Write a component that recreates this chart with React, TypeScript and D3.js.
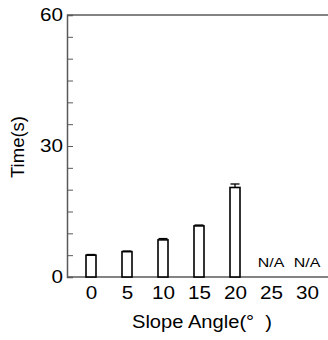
import { useEffect, useRef } from "react"
import * as d3 from "d3"

// slope angle categories (degrees)
const angles = ["0", "5", "10", "15", "20", "25", "30"]
// mean time in seconds, null = N/A
const times: (number | null)[] = [5.0, 5.8, 8.5, 11.7, 20.5, null, null]
// error bar half-heights
const errors: (number | null)[] = [0.15, 0.15, 0.3, 0.2, 0.8, null, null]
const majorTicks = [0, 30, 60]

const FONT = "'Liberation Sans', Arial, sans-serif"
// the original figure is a bit stretched horizontally
const STRETCH = 1.18

export default function App() {
  const svgRef = useRef<SVGSVGElement>(null)

  useEffect(() => {
    if (!svgRef.current) return
    const svg = d3.select(svgRef.current)
    svg.selectAll("*").remove()

    const width = 328
    const left = 67
    const top = 15
    const bottom = 277

    const x = d3.scalePoint<string>().domain(angles).range([91, 307])
    const y = d3.scaleLinear().domain([0, 60]).range([bottom, top])
    const barW = 10

    const rows = angles.map((a, i) => ({ angle: a, value: times[i], err: errors[i] }))

    // frame lines
    const frame = svg.append("g").attr("stroke", "#5a5a5a").attr("stroke-width", 1.5)
    frame.append("line").attr("x1", left).attr("x2", width).attr("y1", top).attr("y2", top)
    frame.append("line").attr("x1", left).attr("x2", width).attr("y1", bottom).attr("y2", bottom)

    // minor ticks every 5
    const minor = svg
      .append("g")
      .attr("transform", `translate(${left},0)`)
      .call(d3.axisLeft(y).tickValues(d3.range(0, 61, 5)).tickSize(-6).tickFormat(() => ""))
    minor.select(".domain").attr("stroke", "#5a5a5a").attr("stroke-width", 1.5)
    minor.selectAll(".tick line").attr("stroke", "#5a5a5a").attr("stroke-width", 1)

    // major labels
    const major = svg
      .append("g")
      .attr("transform", `translate(${left},0)`)
      .call(d3.axisLeft(y).tickValues(majorTicks).tickSize(0).tickPadding(3.5))
    major.select(".domain").remove()
    major
      .selectAll(".tick text")
      .attr("fill", "#000")
      .attr("transform", `scale(${STRETCH},1)`)
      .style("font-family", FONT)
      .style("font-size", "17.5px")

    // x labels
    const xa = svg
      .append("g")
      .attr("transform", `translate(0,${bottom})`)
      .call(d3.axisBottom(x).tickSize(0).tickPadding(10))
    xa.select(".domain").remove()
    xa.selectAll(".tick text")
      .attr("fill", "#000")
      .attr("transform", `scale(${STRETCH},1)`)
      .style("font-family", FONT)
      .style("font-size", "17.5px")

    // bars
    const valid = rows.filter((d) => d.value !== null)
    svg
      .append("g")
      .selectAll("rect")
      .data(valid)
      .enter()
      .append("rect")
      .attr("x", (d) => x(d.angle)! - barW / 2)
      .attr("y", (d) => y(d.value as number))
      .attr("width", barW)
      .attr("height", (d) => bottom - y(d.value as number))
      .attr("fill", "white")
      .attr("stroke", "black")
      .attr("stroke-width", 1.6)

    // error bars
    const eb = svg.append("g").attr("stroke", "black").attr("stroke-width", 1.3)
    valid.forEach((d) => {
      const cx = x(d.angle)!
      const hi = y((d.value as number) + (d.err as number))
      const lo = y(d.value as number)
      eb.append("line").attr("x1", cx).attr("x2", cx).attr("y1", hi).attr("y2", lo)
      eb.append("line").attr("x1", cx - 4.5).attr("x2", cx + 4.5).attr("y1", hi).attr("y2", hi)
    })

    // N/A labels
    svg
      .append("g")
      .selectAll("text")
      .data(rows.filter((d) => d.value === null))
      .enter()
      .append("text")
      .attr("transform", (d) => `translate(${x(d.angle)},267) scale(${STRETCH},1)`)
      .attr("text-anchor", "middle")
      .style("font-family", FONT)
      .style("font-size", "13.5px")
      .text("N/A")

    // axis titles
    svg
      .append("text")
      .attr("transform", `translate(202,328) scale(1.06,1)`)
      .attr("text-anchor", "middle")
      .style("font-family", FONT)
      .style("font-size", "19px")
      .style("white-space", "pre")
      .text("Slope Angle(°  )")

    svg
      .append("text")
      .attr("transform", `translate(24,147) rotate(-90)`)
      .attr("text-anchor", "middle")
      .style("font-family", FONT)
      .style("font-size", "18.5px")
      .text("Time(s)")
  }, [])

  return (
    <svg
      ref={svgRef}
      width={328}
      height={340}
      style={{ position: "absolute", left: 0, top: 0, background: "white" }}
    ></svg>
  )
}
